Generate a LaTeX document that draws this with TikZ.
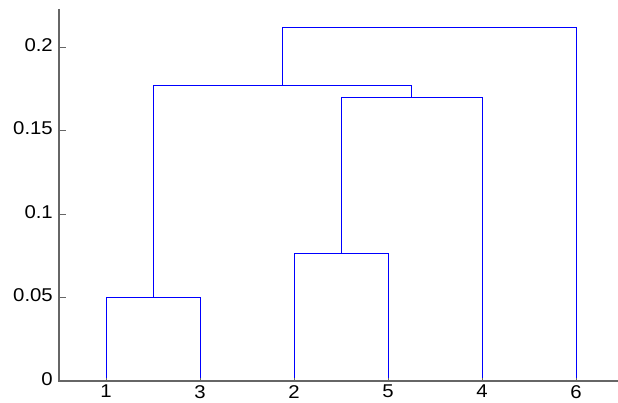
\documentclass[tikz,border=0pt]{standalone}
\usepackage{fontspec}
\setmainfont{Liberation Sans}[FakeStretch=1.1]
\begin{document}
\begin{tikzpicture}[x=94pt,y=1670pt,font=\fontsize{18.5}{22}\selectfont,link/.style={draw=blue,line width=0.9pt},axis/.style={draw=black!60,line width=1.1pt},lab/.style={inner sep=0pt}]
\useasboundingbox (-0.1277,-0.012575) rectangle (6.4468,0.228144);
\coordinate (o) at (0.5,0);
\coordinate (xend) at (6.45,0);
\coordinate (yend) at (0.5,0.2228);
\foreach \leaf [count=\i] in {1,3,2,5,4,6}{
\coordinate (L\leaf) at (\i,0);
\node[lab,anchor=north,yshift=-4pt] (xlab\leaf) at (L\leaf) {\leaf};
}
\coordinate (m13) at (1.5,0.05);
\coordinate (m25) at (3.5,0.0766);
\coordinate (m254) at (4.25,0.170);
\coordinate (m1325) at (2.875,0.1767);
\coordinate (mall) at (4.4375,0.212);
\draw[link] (L1) |- (m13) -| (L3);
\draw[link] (L2) |- (m25) -| (L5);
\draw[link] (m25) |- (m254) -| (L4);
\draw[link] (m13) |- (m1325) -| (m254);
\draw[link] (m1325) |- (mall) -| (L6);
\draw[axis] (yend) -- (o) -- (xend);
\foreach \y [count=\k] in {0,0.05,0.1,0.15,0.2}{
\coordinate (yt\k) at (0.5,\y);
\draw[axis,line width=0.8pt] (yt\k) -- ++(7pt,0);
\node[lab,anchor=east,xshift=-6pt,yshift=2pt] (ylab\k) at (yt\k) {\y};
}
\foreach \leaf in {1,3,2,5,4,6}
\draw[axis,line width=0.8pt] (L\leaf) -- ++(0,3pt);
\end{tikzpicture}
\end{document}
